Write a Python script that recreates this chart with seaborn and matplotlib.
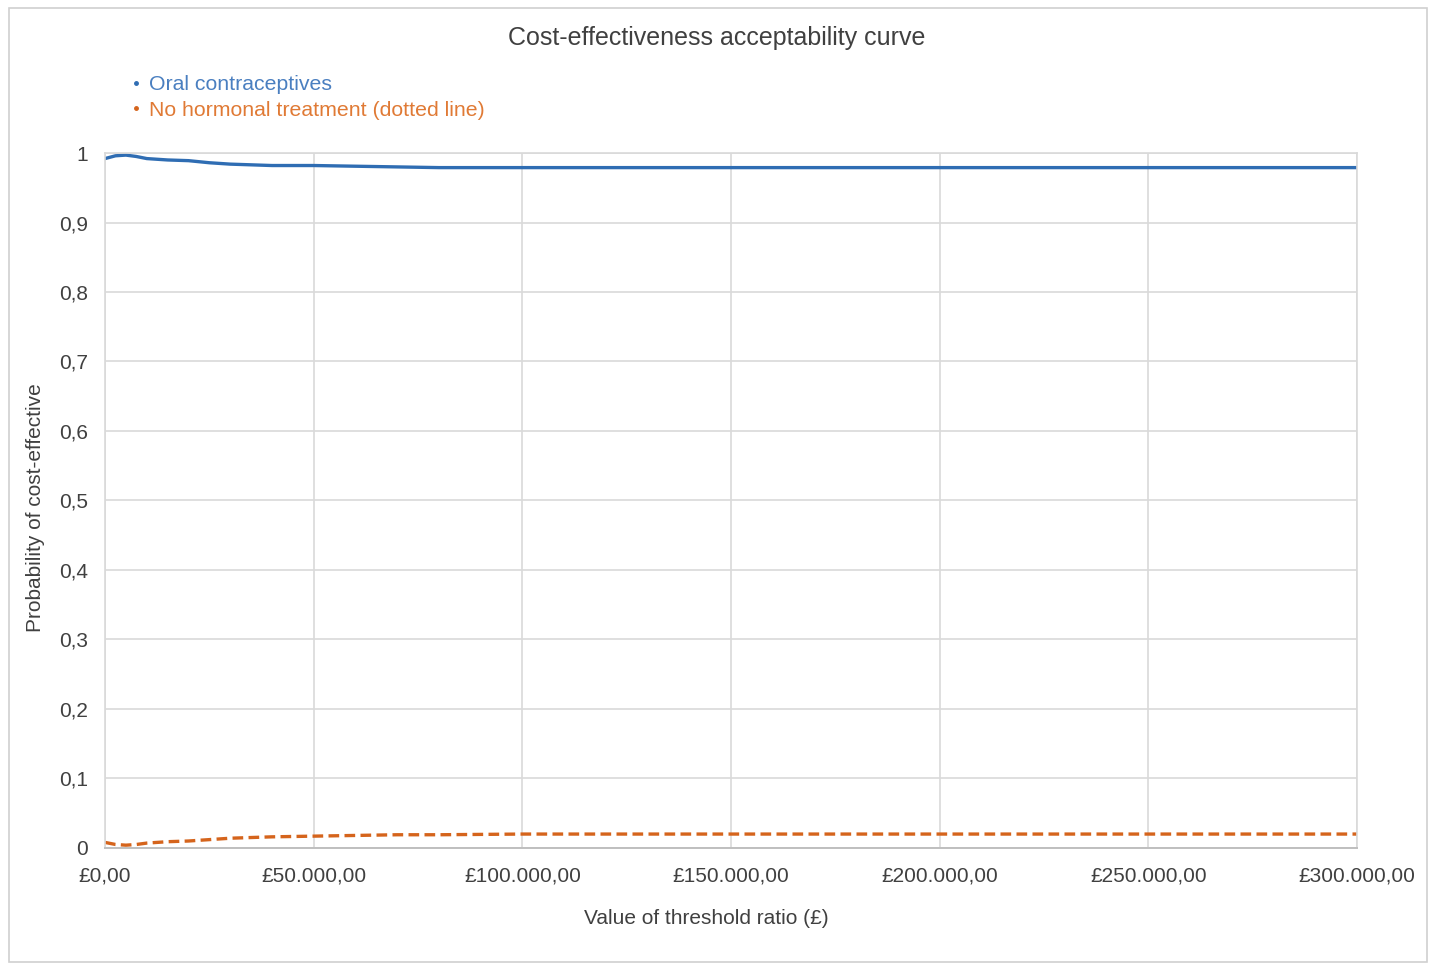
import pandas as pd
import matplotlib
matplotlib.use("Agg")
import matplotlib.pyplot as plt
from matplotlib.lines import Line2D
from matplotlib.patches import Rectangle
import seaborn as sns

# Data
threshold = [0, 2500, 5000, 7500, 10000, 15000, 20000, 25000, 30000, 40000, 50000,
             60000, 70000, 80000, 100000, 150000, 200000, 250000, 300000]
oral_contraceptives = [0.992, 0.996, 0.997, 0.995, 0.992, 0.990, 0.989, 0.986, 0.984, 0.982,
                       0.982, 0.981, 0.980, 0.979, 0.979, 0.979, 0.979, 0.979, 0.979]
no_hormonal = [0.008, 0.005, 0.004, 0.005, 0.007, 0.009, 0.010, 0.012, 0.014, 0.016,
               0.017, 0.018, 0.019, 0.019, 0.020, 0.020, 0.020, 0.020, 0.020]

x_ticks = [0, 50000, 100000, 150000, 200000, 250000, 300000]
x_tick_labels = ["£0,00", "£50.000,00", "£100.000,00", "£150.000,00",
                 "£200.000,00", "£250.000,00", "£300.000,00"]
y_ticks = [0, 0.1, 0.2, 0.3, 0.4, 0.5, 0.6, 0.7, 0.8, 0.9, 1]
y_tick_labels = ["0", "0,1", "0,2", "0,3", "0,4", "0,5", "0,6", "0,7", "0,8", "0,9", "1"]

series_names = ["Oral contraceptives", "No hormonal treatment (dotted line)"]

BLUE = "#2f6db3"
ORANGE = "#d5641c"
TEXT = "#404040"
GRID = "#d9d9d9"

sns.set_style("whitegrid")
plt.rcParams["font.family"] = ["Liberation Sans", "DejaVu Sans"]

fig = plt.figure(figsize=(14.31, 9.66), dpi=100)
ax = fig.add_axes([0.0734, 0.1222, 0.8749, 0.7194])

df = pd.DataFrame({"threshold": threshold, "oc": oral_contraceptives, "nh": no_hormonal})
sns.lineplot(data=df, x="threshold", y="oc", ax=ax, color=BLUE, linewidth=2.4)
sns.lineplot(data=df, x="threshold", y="nh", ax=ax, color=ORANGE, linewidth=2.4,
             linestyle=(0, (3.2, 1.6)))

ax.set_xlim(0, 300000)
ax.set_ylim(0, 1)
ax.set_xticks(x_ticks)
ax.set_xticklabels(x_tick_labels)
ax.set_yticks(y_ticks)
ax.set_yticklabels(y_tick_labels)
ax.tick_params(axis="both", labelsize=15, colors=TEXT, length=0)
ax.tick_params(axis="x", pad=13)
ax.tick_params(axis="y", pad=12)

ax.grid(True, color=GRID, linewidth=1.2)
for side in ["top", "right", "left"]:
    ax.spines[side].set_color(GRID)
    ax.spines[side].set_linewidth(1.2)
ax.spines["bottom"].set_color("#bfbfbf")
ax.spines["bottom"].set_linewidth(1.4)

ax.set_xlabel("Value of threshold ratio (£)", fontsize=15, color=TEXT)
ax.xaxis.set_label_coords(0.48, -0.088)
ax.set_ylabel("Probability of cost-effective", fontsize=15, color=TEXT)
ax.yaxis.set_label_coords(-0.048, 0.49)
fig.text(0.501, 0.961, "Cost-effectiveness acceptability curve", ha="center", va="center",
         fontsize=18, color=TEXT)

# legend: coloured bullets with coloured text
handles = [Line2D([], [], marker="o", markersize=2.5, linestyle="none", color=BLUE),
           Line2D([], [], marker="o", markersize=2.5, linestyle="none", color=ORANGE)]
leg = fig.legend(handles, series_names, loc="upper left", bbox_to_anchor=(0.086, 0.931),
                 frameon=False, fontsize=15.3, handlelength=0.4, handletextpad=0.4,
                 labelspacing=0.3, borderaxespad=0)
for t, c in zip(leg.get_texts(), ["#4a7fc0", "#e07a35"]):
    t.set_color(c)

fig.patches.append(Rectangle((0.006, 0.004), 0.991, 0.988, transform=fig.transFigure,
                             fill=False, edgecolor="#d0d0d0", linewidth=1.2))

fig.savefig("out.png", dpi=100)
